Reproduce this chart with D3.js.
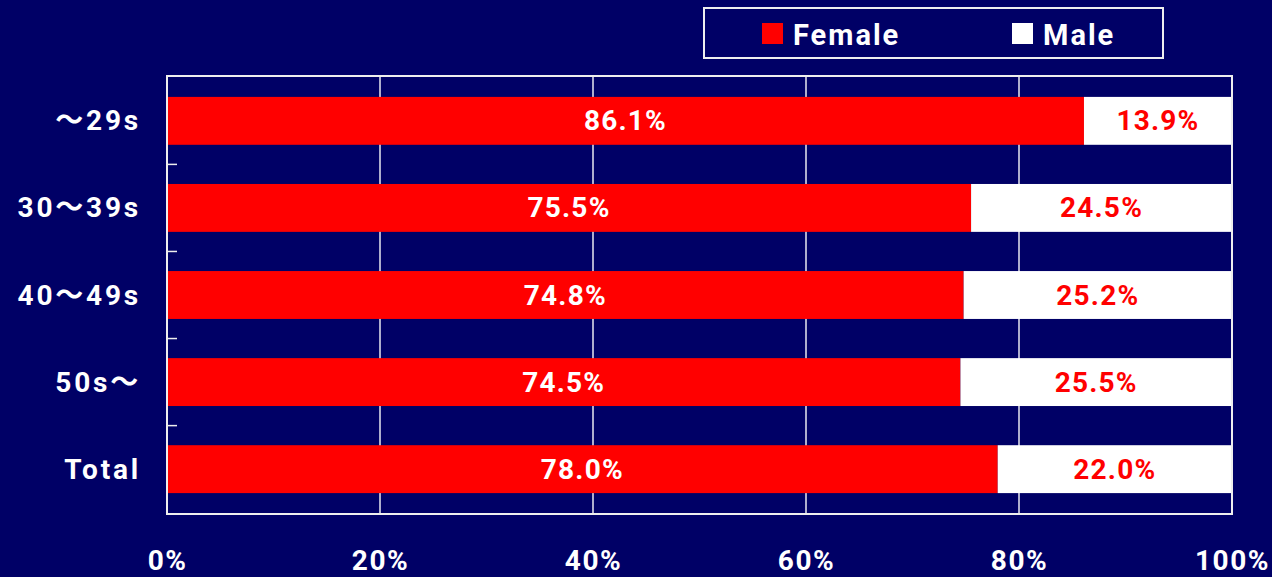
<!DOCTYPE html>
<html>
<head>
<meta charset="utf-8">
<script src="https://cdn.jsdelivr.net/npm/d3@7"></script>
<style>
  html, body { margin: 0; padding: 0; background: #000066; }
  svg { display: block; }
  text { font-family: Roboto, "Noto Sans CJK JP", sans-serif; font-weight: bold; }
</style>
</head>
<body>
<script>
// Share of female and male respondents by age group
const categories = ["～29s", "30～39s", "40～49s", "50s～", "Total"];
const female = [86.1, 75.5, 74.8, 74.5, 78.0];
const male = [13.9, 24.5, 25.2, 25.5, 22.0];
const seriesNames = ["Female", "Male"];
const xTicks = [0, 20, 40, 60, 80, 100];

const W = 1272, H = 577;
const bg = "#000066", red = "#ff0000", white = "#ffffff";
const margin = { left: 167, right: 40, top: 76, bottom: 63 };

const svg = d3.select("body").append("svg").attr("width", W).attr("height", H);
svg.append("rect").attr("width", W).attr("height", H).attr("fill", bg);

const x = d3.scaleLinear().domain([0, 100]).range([margin.left, W - margin.right]);
const y = d3.scaleBand().domain(categories).range([margin.top, H - margin.bottom])
  .paddingInner(0.45).paddingOuter(0.24);

// vertical gridlines
svg.append("g").selectAll("line").data(xTicks.slice(1, -1)).join("line")
  .attr("x1", d => x(d)).attr("x2", d => x(d))
  .attr("y1", margin.top).attr("y2", H - margin.bottom)
  .attr("stroke", "#e8e8f0").attr("stroke-width", 1.5);

const rows = categories.map((c, i) => ({ c, f: female[i], m: male[i] }));

// stacked bars
const g = svg.append("g");
g.selectAll("rect.f").data(rows).join("rect").attr("class", "f")
  .attr("x", x(0)).attr("y", d => y(d.c))
  .attr("width", d => x(d.f) - x(0)).attr("height", y.bandwidth())
  .attr("fill", red);
g.selectAll("rect.m").data(rows).join("rect").attr("class", "m")
  .attr("x", d => x(d.f)).attr("y", d => y(d.c))
  .attr("width", d => x(d.f + d.m) - x(d.f)).attr("height", y.bandwidth())
  .attr("fill", white);

// value labels
const fmt = v => v.toFixed(1) + "%";
g.selectAll("text.f").data(rows).join("text").attr("class", "f")
  .attr("x", d => x(d.f / 2)).attr("y", d => y(d.c) + y.bandwidth() / 2)
  .attr("text-anchor", "middle").attr("dominant-baseline", "central")
  .attr("font-size", 28).attr("letter-spacing", 1.2).attr("fill", white).text(d => fmt(d.f));
g.selectAll("text.m").data(rows).join("text").attr("class", "m")
  .attr("x", d => x(d.f + d.m / 2)).attr("y", d => y(d.c) + y.bandwidth() / 2)
  .attr("text-anchor", "middle").attr("dominant-baseline", "central")
  .attr("font-size", 28).attr("letter-spacing", 1.2).attr("fill", red).text(d => fmt(d.m));

// plot frame
svg.append("rect")
  .attr("x", margin.left).attr("y", margin.top)
  .attr("width", W - margin.right - margin.left).attr("height", H - margin.bottom - margin.top)
  .attr("fill", "none").attr("stroke", "#eeeeee").attr("stroke-width", 2);

// category ticks between bands
const bounds = categories.slice(1).map(c => y(c) - y.step() * y.paddingInner() / 2);
svg.append("g").selectAll("line").data(bounds).join("line")
  .attr("x1", margin.left).attr("x2", margin.left + 10)
  .attr("y1", d => d).attr("y2", d => d)
  .attr("stroke", "#eeeeee").attr("stroke-width", 1.5);

// category labels
svg.append("g").selectAll("text").data(categories).join("text")
  .attr("x", 141).attr("y", d => y(d) + y.bandwidth() / 2)
  .attr("text-anchor", "end").attr("dominant-baseline", "central")
  .attr("font-size", 28).attr("letter-spacing", 2.8).attr("fill", white).text(d => d);

// x-axis tick labels
const xAxis = d3.axisBottom(x).tickValues(xTicks).tickFormat(d => d + "%").tickSize(0).tickPadding(0);
const ax = svg.append("g").attr("transform", `translate(0,${H - 7})`).call(xAxis);
ax.select(".domain").remove();
ax.selectAll("text").attr("font-size", 28).attr("letter-spacing", 1.5).attr("fill", white)
  .attr("font-family", null).attr("dy", null).attr("dominant-baseline", "auto");

// legend
const lg = svg.append("g");
lg.append("rect").attr("x", 704).attr("y", 8).attr("width", 459).attr("height", 50)
  .attr("fill", bg).attr("stroke", "#eeeeee").attr("stroke-width", 2);
const legendX = [762, 1012];
const legendColors = [red, white];
seriesNames.forEach((s, i) => {
  lg.append("rect").attr("x", legendX[i]).attr("y", 23).attr("width", 21).attr("height", 21)
    .attr("fill", legendColors[i]);
  lg.append("text").attr("x", legendX[i] + 31).attr("y", 35)
    .attr("dominant-baseline", "central").attr("font-size", 29).attr("letter-spacing", 2)
    .attr("fill", white).text(s);
});
</script>
</body>
</html>
